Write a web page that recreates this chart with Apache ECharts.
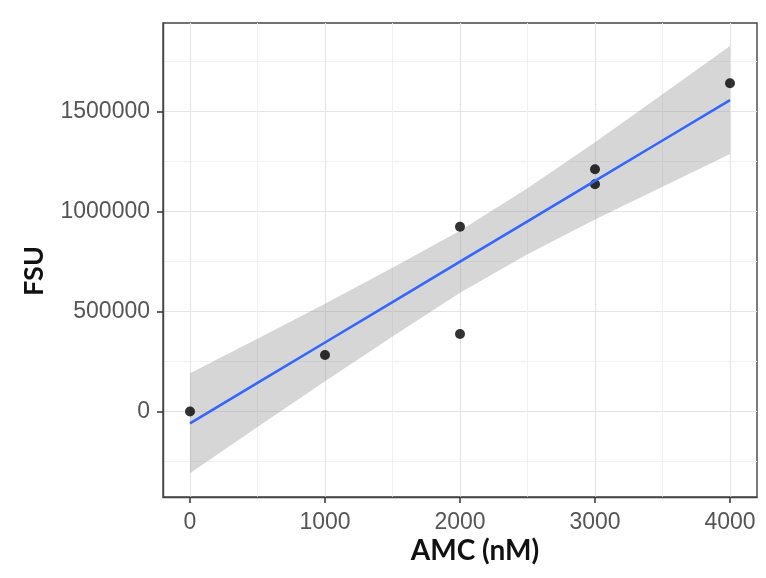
<!DOCTYPE html>
<html>
<head>
<meta charset="utf-8">
<script src="https://cdn.jsdelivr.net/npm/echarts@6/dist/echarts.min.js"></script>
<style>
  html, body { margin: 0; padding: 0; background: #ffffff; }
  #chart { width: 766px; height: 578px; }
</style>
</head>
<body>
<div id="chart"></div>
<script>
// Observed standards: AMC concentration (nM) vs fluorescence (FSU)
const pointX = [0, 1000, 2000, 2000, 3000, 3000, 4000];
const pointY = [0, 282500, 387500, 924000, 1211000, 1136000, 1641000];

// Linear fit and its confidence band, sampled along the x range
const fitX     = [0, 500, 1000, 1500, 2000, 2500, 3000, 3500, 4000];
const fitY     = [-59000, 143000, 345000, 547000, 749000, 951000, 1153000, 1355000, 1557000];
const bandLow  = [-309000, -78000, 151000, 375000, 594000, 786000, 960000, 1124000, 1287000];
const bandHigh = [191000, 364000, 539000, 719000, 904000, 1116000, 1346000, 1586000, 1827000];

// Axis ticks
const xTicks = [0, 1000, 2000, 3000, 4000];
const xMinor = [500, 1500, 2500, 3500];
const yTicks = [0, 500000, 1000000, 1500000];
const yMinor = [-250000, 250000, 750000, 1250000, 1750000];

const X_MIN = -200, X_MAX = 4200;
const Y_MIN = -427500, Y_MAX = 1942500;

const tickFont = 'Liberation Sans';
const majorGrid = { color: '#e4e4e4', width: 1.2 };
const minorGrid = { color: '#efefef', width: 0.9 };
const frame = { color: '#444444', width: 1.4 };
const plain = v => String(v);

const chart = echarts.init(document.getElementById('chart'), null, { renderer: 'canvas' });

const bandRows = fitX.map((x, i) => [x, bandLow[i], bandHigh[i]]);

chart.setOption({
  animation: false,
  backgroundColor: '#ffffff',
  grid: {
    left: 163, top: 23, width: 594, height: 474,
    show: true,
    borderColor: frame.color,
    borderWidth: frame.width,
    backgroundColor: 'transparent'
  },
  xAxis: [
    {
      type: 'value', min: X_MIN, max: X_MAX, position: 'bottom',
      axisLine: { show: true, onZero: false, lineStyle: frame },
      axisTick: { show: true, inside: false, customValues: xTicks, length: 6, lineStyle: { color: '#333333', width: 1.5 } },
      axisLabel: { customValues: xTicks, formatter: plain, fontSize: 23, fontFamily: tickFont, color: '#555555', margin: 14 },
      splitLine: { show: true, lineStyle: majorGrid }
    },
    {
      type: 'value', min: X_MIN, max: X_MAX, position: 'bottom',
      axisLine: { show: false, onZero: false },
      axisTick: { show: false, customValues: xMinor },
      axisLabel: { show: false, customValues: xMinor },
      splitLine: { show: true, lineStyle: minorGrid }
    }
  ],
  yAxis: [
    {
      type: 'value', min: Y_MIN, max: Y_MAX, position: 'left',
      axisLine: { show: true, onZero: false, lineStyle: frame },
      axisTick: { show: true, inside: false, customValues: yTicks, length: 6, lineStyle: { color: '#333333', width: 1.5 } },
      axisLabel: { customValues: yTicks, formatter: plain, fontSize: 23, fontFamily: tickFont, color: '#555555', margin: 13 },
      splitLine: { show: true, lineStyle: majorGrid }
    },
    {
      type: 'value', min: Y_MIN, max: Y_MAX, position: 'left',
      axisLine: { show: false, onZero: false },
      axisTick: { show: false, customValues: yMinor },
      axisLabel: { show: false, customValues: yMinor },
      splitLine: { show: true, lineStyle: minorGrid }
    }
  ],
  series: [
    {
      // confidence band drawn as one polygon: along the upper edge, then back along the lower edge
      type: 'custom',
      name: 'band',
      xAxisIndex: 0, yAxisIndex: 0,
      z: 2,
      silent: true,
      data: bandRows,
      encode: { x: 0, y: [1, 2] },
      renderItem: function (params, api) {
        if (params.dataIndex !== 0) return null;
        const pts = [];
        for (let i = 0; i < bandRows.length; i++) pts.push(api.coord([bandRows[i][0], bandRows[i][2]]));
        for (let i = bandRows.length - 1; i >= 0; i--) pts.push(api.coord([bandRows[i][0], bandRows[i][1]]));
        return {
          type: 'polygon',
          shape: { points: pts },
          style: { fill: 'rgba(153,153,153,0.4)', stroke: null }
        };
      }
    },
    {
      type: 'scatter',
      name: 'points',
      xAxisIndex: 0, yAxisIndex: 0,
      z: 3,
      symbol: 'circle',
      symbolSize: 10,
      itemStyle: { color: '#000000' },
      data: pointX.map((x, i) => [x, pointY[i]])
    },
    {
      type: 'line',
      name: 'fit',
      xAxisIndex: 0, yAxisIndex: 0,
      z: 4,
      showSymbol: false,
      symbol: 'none',
      lineStyle: { color: '#3366FF', width: 2.6 },
      data: fitX.map((x, i) => [x, fitY[i]])
    }
  ],
  graphic: [
    {
      type: 'text',
      x: 475, y: 551,
      style: {
        text: 'AMC (nM)',
        font: 'bold 28px Lato',
        fill: '#111111',
        align: 'center',
        verticalAlign: 'middle'
      }
    },
    {
      type: 'text',
      x: 34, y: 271,
      rotation: Math.PI / 2,
      style: {
        text: 'FSU',
        font: 'bold 27px Lato',
        fill: '#111111',
        align: 'center',
        verticalAlign: 'middle'
      }
    }
  ]
});
</script>
</body>
</html>
